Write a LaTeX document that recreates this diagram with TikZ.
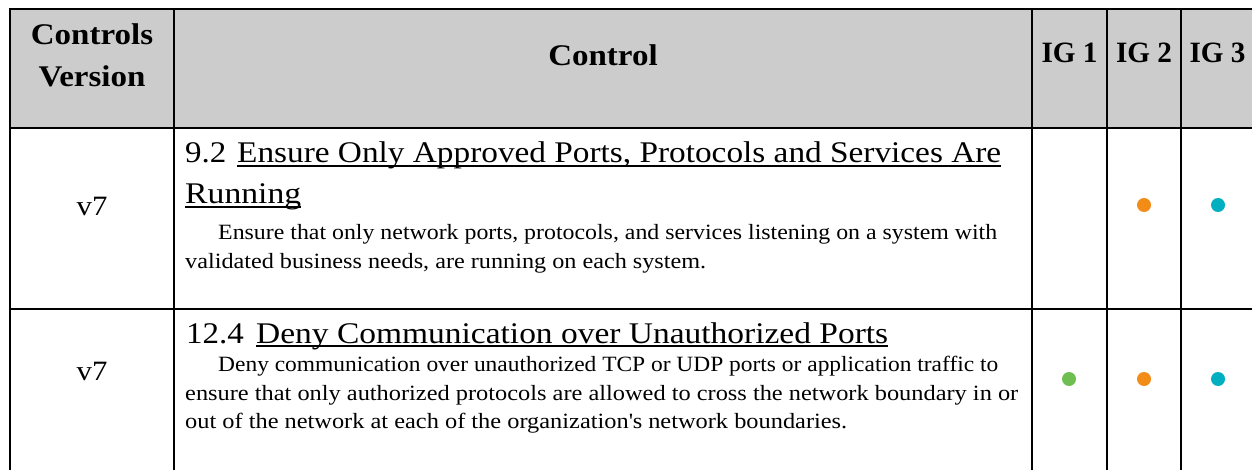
\documentclass[tikz,border=0pt]{standalone}
\usepackage{graphicx}
\usepackage{fontspec}
\setmainfont{Liberation Serif}[FakeStretch=1.1]
\definecolor{hdrgray}{RGB}{204,204,204}
\definecolor{iggreen}{RGB}{110,190,82}
\definecolor{igorange}{RGB}{242,140,22}
\definecolor{igcyan}{RGB}{0,176,192}
\newcommand{\fitw}[2]{\resizebox{#1}{\height}{#2}}
\tikzset{
  gridline/.style={line width=2pt, black},
  hdr/.style={font=\fontsize{30}{36}\selectfont\bfseries, inner sep=0pt, anchor=base},
  igtxt/.style={font=\fontsize{29.5}{34}\selectfont\bfseries, inner sep=0pt, anchor=base},
  ttl/.style={font=\fontsize{30}{36}\selectfont, inner sep=0pt, anchor=base west},
  dsc/.style={font=\fontsize{21.8}{26}\selectfont, inner sep=0pt, anchor=base west},
  ver/.style={font=\fontsize{28}{32}\selectfont, inner sep=0pt, anchor=base},
  uline/.style={line width=1.6pt, black},
  igdot/.style={circle, inner sep=0pt, minimum size=14pt, draw=none}
}
\begin{document}
\begin{tikzpicture}[x=1pt, y=-1pt]
\useasboundingbox (0,0) rectangle (1252,470);
\fill[white] (0,0) rectangle (1252,470);
% header background
\fill[hdrgray] (10,9) rectangle (1252,128);
% grid
\draw[gridline] (9,9) -- (1252,9);
\draw[gridline] (9,128) -- (1252,128);
\draw[gridline] (9,309) -- (1252,309);
\foreach \gx in {10,174,1032,1107,1181} \draw[gridline] (\gx,8) -- (\gx,470);
% header texts
\node[hdr] (hcv1) at (92,45) {Controls};
\node[hdr] (hcv2) at (92,87) {Version};
\node[hdr] (hctl) at (603,66) {Control};
\node[igtxt] (hig1) at (1069.5,63) {\fitw{56pt}{IG 1}};
\node[igtxt] (hig2) at (1144,63) {\fitw{56pt}{IG 2}};
\node[igtxt] (hig3) at (1217.5,63) {\fitw{56pt}{IG 3}};
% row 1
\node[ver] (v1) at (92,216) {v7};
\node[ttl] (n1) at (185,163) {9.2};
\node[ttl] (u1) at (237,163) {\fitw{764pt}{Ensure Only Approved Ports, Protocols and Services Are}};
\node[ttl] (u1b) at (185,204) {\fitw{116pt}{Running}};
\draw[uline] ([yshift=-3pt]u1.base west) -- ([yshift=-3pt]u1.base east);
\draw[uline] ([yshift=-3pt]u1b.base west) -- ([yshift=-3pt]u1b.base east);
\node[dsc] (d11) at (218,240) {\fitw{779pt}{Ensure that only network ports, protocols, and services listening on a system with}};
\node[dsc] (d12) at (185,268) {\fitw{521pt}{validated business needs, are running on each system.}};
\node[igdot, fill=igorange] (o1) at (1144,205) {};
\node[igdot, fill=igcyan] (c1) at (1218,205) {};
% row 2
\node[ver] (v2) at (92,380) {v7};
\node[ttl] (n2) at (186,343) {12.4};
\node[ttl] (u2) at (256,343) {\fitw{632pt}{Deny Communication over Unauthorized Ports}};
\draw[uline] ([yshift=-3pt]u2.base west) -- ([yshift=-3pt]u2.base east);
\node[dsc] (d21) at (218,371) {\fitw{780pt}{Deny communication over unauthorized TCP or UDP ports or application traffic to}};
\node[dsc] (d22) at (185,400) {\fitw{833pt}{ensure that only authorized protocols are allowed to cross the network boundary in or}};
\node[dsc] (d23) at (185,428) {\fitw{662pt}{out of the network at each of the organization\textquotesingle s network boundaries.}};
\node[igdot, fill=iggreen] (g2) at (1069,379) {};
\node[igdot, fill=igorange] (o2) at (1144,379) {};
\node[igdot, fill=igcyan] (c2) at (1218,379) {};
\end{tikzpicture}
\end{document}
